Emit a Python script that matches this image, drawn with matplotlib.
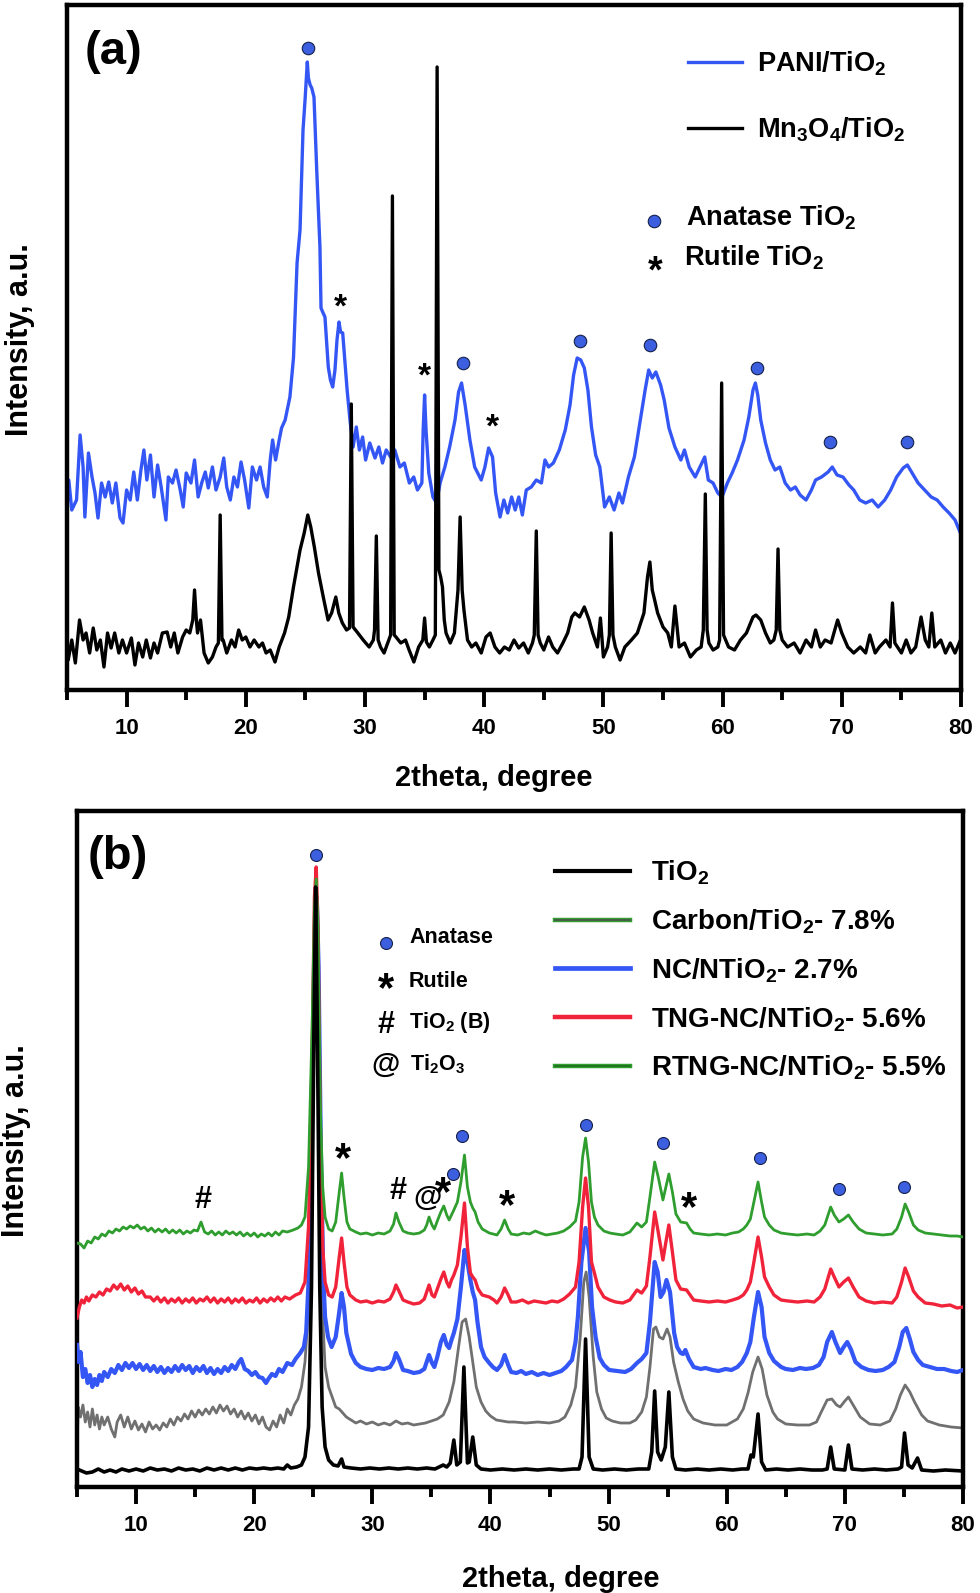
import matplotlib
matplotlib.use('Agg')
import matplotlib.pyplot as plt
import matplotlib.patheffects as pe
from matplotlib.lines import Line2D
from matplotlib.transforms import offset_copy
import numpy as np

plt.rcParams['font.family'] = ['Liberation Sans', 'DejaVu Sans']
plt.rcParams['font.weight'] = 'bold'
plt.rcParams['axes.labelweight'] = 'bold'
plt.rcParams['mathtext.fontset'] = 'custom'
plt.rcParams['mathtext.rm'] = 'Liberation Sans:bold'
plt.rcParams['mathtext.it'] = 'Liberation Sans:bold'
plt.rcParams['mathtext.bf'] = 'Liberation Sans:bold'
plt.rcParams['mathtext.default'] = 'rm'

# ---- panel (a) data: (2theta, intensity a.u.) ----
pani_pts = [
    (5.0, 183), (5.15, 210), (5.4, 180), (5.8, 190), (6.1, 255), (6.35, 223), (6.5, 173), (6.8, 237),
    (7.1, 213), (7.35, 197), (7.6, 172), (7.9, 207), (8.2, 193), (8.5, 208), (8.8, 187), (9.1, 207),
    (9.45, 172), (9.7, 167), (10.0, 200), (10.3, 190), (10.6, 218), (10.9, 190), (11.2, 220), (11.45, 240),
    (11.7, 210), (12.0, 235), (12.3, 193), (12.6, 225), (12.9, 203), (13.3, 170), (13.5, 213), (13.85, 207),
    (14.15, 220), (14.5, 200), (14.75, 183), (15.0, 217), (15.4, 207), (15.7, 230), (16.0, 193), (16.3, 207),
    (16.6, 218), (16.85, 202), (17.2, 223), (17.5, 200), (17.85, 213), (18.15, 232), (18.4, 203), (18.7, 190),
    (19.0, 213), (19.3, 203), (19.6, 228), (19.9, 210), (20.25, 182), (20.55, 223), (20.9, 210), (21.2, 223),
    (21.5, 203), (21.8, 193), (22.05, 230), (22.25, 250), (22.5, 230), (22.8, 250), (23.0, 262), (23.3, 270),
    (23.7, 293), (24.0, 332), (24.3, 427), (24.55, 460), (24.8, 560), (24.97, 590), (25.1, 615), (25.16, 628),
    (25.25, 612), (25.4, 605), (25.53, 602), (25.72, 593), (25.95, 520), (26.22, 443), (26.31, 382), (26.45, 378),
    (26.64, 373), (26.92, 323), (27.1, 310), (27.29, 303), (27.48, 320), (27.65, 350), (27.82, 368), (27.95, 358),
    (28.13, 357), (28.32, 327), (28.5, 300), (28.74, 270), (29.0, 243), (29.27, 263), (29.53, 240), (29.8, 253),
    (30.05, 230), (30.4, 247), (30.84, 232), (31.16, 243), (31.47, 227), (31.78, 240), (32.15, 233), (32.5, 240),
    (32.93, 223), (33.3, 227), (33.72, 207), (34.09, 213), (34.4, 200), (34.77, 207), (34.88, 260), (35.0, 295),
    (35.12, 260), (35.35, 217), (35.7, 193), (36.0, 187), (36.3, 207), (36.7, 223), (37.1, 243), (37.55, 270),
    (37.85, 298), (38.1, 307), (38.4, 285), (38.8, 250), (39.2, 223), (39.75, 210), (40.06, 223), (40.37, 242),
    (40.7, 233), (40.96, 197), (41.33, 173), (41.65, 190), (41.97, 177), (42.3, 193), (42.6, 180), (42.9, 193),
    (43.2, 175), (43.53, 200), (43.95, 203), (44.37, 210), (44.8, 207), (45.1, 230), (45.4, 223), (45.8, 227),
    (46.3, 240), (46.8, 260), (47.2, 285), (47.5, 315), (47.8, 332), (48.1, 330), (48.4, 322), (48.7, 300),
    (49.0, 263), (49.35, 235), (49.7, 223), (50.1, 183), (50.5, 193), (50.9, 180), (51.3, 197), (51.6, 187),
    (52.1, 213), (52.6, 233), (53.1, 270), (53.5, 300), (53.8, 320), (54.1, 312), (54.4, 318), (54.8, 305),
    (55.1, 290), (55.5, 262), (56.0, 243), (56.5, 230), (56.8, 240), (57.2, 223), (57.7, 213), (58.1, 223),
    (58.5, 233), (58.8, 210), (59.2, 207), (59.6, 197), (59.95, 193), (60.4, 207), (60.8, 217), (61.25, 230),
    (61.8, 250), (62.2, 273), (62.55, 300), (62.75, 307), (62.95, 295), (63.2, 270), (63.6, 247), (64.0, 230),
    (64.4, 220), (64.8, 223), (65.25, 207), (65.7, 200), (66.1, 203), (66.5, 195), (67.0, 190), (67.45, 200),
    (67.8, 210), (68.3, 213), (68.85, 218), (69.2, 223), (69.6, 215), (70.1, 213), (70.6, 205), (71.0, 200),
    (71.5, 190), (72.0, 187), (72.55, 190), (73.05, 183), (73.6, 190), (74.1, 200), (74.6, 213), (75.15, 222),
    (75.5, 225), (75.9, 217), (76.4, 207), (76.95, 200), (77.5, 193), (78.0, 190), (78.5, 183), (79.0, 177),
    (79.5, 170), (79.95, 157)]

mn_pts = [
    (5.0, 45), (5.1, 30), (5.4, 50), (5.7, 27), (6.05, 70), (6.35, 50), (6.6, 57), (6.9, 37), (7.2, 62),
    (7.5, 40), (7.8, 50), (8.1, 23), (8.4, 57), (8.7, 42), (9.0, 57), (9.35, 37), (9.65, 50), (10.0, 37),
    (10.4, 52), (10.7, 25), (11.0, 47), (11.35, 33), (11.65, 50), (12.0, 32), (12.3, 47), (12.6, 37),
    (13.0, 57), (13.4, 58), (13.7, 43), (14.0, 57), (14.3, 37), (14.7, 53), (15.0, 60), (15.3, 57),
    (15.55, 70), (15.7, 100), (15.85, 70), (15.95, 57), (16.2, 70), (16.5, 37), (16.85, 27), (17.2, 33),
    (17.5, 43), (17.7, 47), (17.85, 175), (18.0, 50), (18.1, 50), (18.4, 37), (18.8, 50), (19.1, 43),
    (19.4, 60), (19.7, 50), (20.0, 53), (20.35, 43), (20.7, 50), (21.1, 43), (21.4, 47), (21.7, 37),
    (22.05, 40), (22.45, 28), (22.8, 43), (23.25, 57), (23.6, 73), (24.0, 103), (24.55, 140), (24.9, 157),
    (25.2, 175), (25.45, 163), (25.75, 143), (26.1, 117), (26.55, 90), (26.9, 70), (27.2, 77), (27.55, 93),
    (27.8, 77), (28.1, 67), (28.45, 60), (28.7, 62), (28.85, 286), (29.0, 63), (29.4, 57), (29.85, 50),
    (30.35, 43), (30.7, 50), (30.8, 60), (30.95, 154), (31.1, 50), (31.3, 43), (31.6, 37), (32.0, 50),
    (32.15, 55), (32.3, 494), (32.45, 55), (32.6, 53), (33.0, 47), (33.4, 50), (33.7, 40), (34.1, 28),
    (34.5, 43), (34.85, 50), (35.0, 72), (35.15, 48), (35.4, 43), (35.7, 50), (35.9, 55), (36.05, 623),
    (36.2, 120), (36.35, 113), (36.5, 103), (36.65, 70), (36.8, 57), (37.15, 47), (37.5, 57), (37.8, 100),
    (37.98, 173), (38.15, 100), (38.3, 80), (38.6, 50), (38.95, 43), (39.3, 47), (39.75, 37), (40.15, 53),
    (40.5, 57), (40.9, 43), (41.3, 37), (41.7, 43), (42.1, 40), (42.5, 50), (42.9, 42), (43.3, 47),
    (43.7, 37), (44.05, 47), (44.2, 55), (44.37, 159), (44.52, 55), (44.7, 47), (45.0, 40), (45.4, 53),
    (45.75, 43), (46.15, 37), (46.6, 47), (47.0, 57), (47.35, 73), (47.6, 77), (48.0, 73), (48.4, 83),
    (48.8, 70), (49.1, 57), (49.5, 43), (49.75, 72), (50.0, 33), (50.35, 43), (50.5, 55), (50.65, 157),
    (50.8, 55), (51.0, 43), (51.4, 30), (51.8, 43), (52.35, 50), (52.85, 57), (53.4, 77), (53.7, 113),
    (53.9, 128), (54.1, 100), (54.3, 90), (54.55, 77), (55.0, 63), (55.4, 57), (55.7, 43), (56.0, 84),
    (56.35, 43), (56.8, 47), (57.3, 33), (57.8, 40), (58.2, 43), (58.38, 60), (58.55, 196), (58.7, 60),
    (58.85, 47), (59.2, 40), (59.6, 43), (59.75, 50), (59.92, 307), (60.08, 55), (60.5, 43), (61.0, 40),
    (61.5, 50), (62.0, 57), (62.55, 73), (62.8, 75), (63.2, 70), (63.6, 57), (64.0, 47), (64.3, 50),
    (64.5, 60), (64.65, 141), (64.8, 60), (65.0, 50), (65.45, 43), (66.0, 47), (66.5, 37), (67.0, 50),
    (67.45, 43), (67.8, 60), (68.2, 43), (68.6, 50), (69.1, 47), (69.65, 70), (70.0, 57), (70.5, 43),
    (71.0, 37), (71.55, 43), (72.0, 37), (72.35, 55), (72.8, 37), (73.15, 43), (73.7, 50), (74.05, 43),
    (74.25, 87), (74.45, 47), (75.0, 37), (75.4, 50), (75.8, 37), (76.2, 43), (76.65, 73), (77.0, 50),
    (77.3, 43), (77.55, 77), (77.8, 43), (78.3, 50), (78.7, 37), (79.1, 47), (79.5, 37), (79.95, 50)]

a_anatase = [(25.2, 642), (38.2, 327), (48.0, 349), (53.9, 345), (62.9, 322), (69.0, 248), (75.5, 248)]
a_rutile = [(27.9, 392), (35.0, 323), (40.7, 272)]

# ---- panel (b) data ----
tio2_pts = [
    (5.0, 18), (5.4, 16), (5.8, 14), (6.3, 15), (6.8, 18), (7.3, 15), (7.8, 17), (8.3, 15), (8.8, 18),
    (9.4, 16), (10.0, 18), (10.6, 16), (11.2, 19), (11.8, 17), (12.4, 18), (13.0, 16), (13.6, 19),
    (14.2, 17), (14.8, 18), (15.4, 16), (16.0, 19), (16.6, 17), (17.2, 19), (17.8, 17), (18.4, 19),
    (19.0, 17), (19.6, 19), (20.2, 18), (20.8, 19), (21.4, 18), (22.0, 19), (22.5, 18), (22.8, 22),
    (23.1, 19), (23.6, 20), (24.0, 22), (24.3, 30), (24.6, 60), (24.85, 200), (25.05, 450), (25.2, 600),
    (25.35, 450), (25.55, 200), (25.75, 80), (26.0, 40), (26.3, 27), (26.7, 22), (27.1, 21), (27.4, 28),
    (27.6, 20), (28.2, 19), (29.0, 18), (29.8, 19), (30.6, 18), (31.4, 19), (32.2, 18), (33.0, 19),
    (33.8, 18), (34.6, 19), (35.3, 18), (36.0, 22), (36.3, 20), (36.6, 24), (36.9, 47), (37.15, 22),
    (37.45, 25), (37.75, 120), (38.05, 24), (38.2, 25), (38.5, 50), (38.8, 22), (39.2, 18), (40.0, 17),
    (41.0, 18), (42.0, 17), (43.0, 18), (44.0, 17), (45.0, 18), (46.0, 17), (47.0, 18), (47.5, 18),
    (47.75, 30), (48.05, 148), (48.35, 30), (48.7, 18), (49.5, 17), (50.5, 18), (51.5, 17), (52.5, 18),
    (53.4, 18), (53.65, 35), (53.9, 96), (54.15, 35), (54.45, 27), (54.8, 40), (55.1, 95), (55.4, 30),
    (55.7, 18), (56.5, 17), (57.5, 18), (58.5, 17), (59.5, 18), (60.5, 17), (61.3, 18), (61.8, 18),
    (62.05, 32), (62.25, 30), (62.65, 73), (62.95, 25), (63.3, 17), (64.2, 18), (65.2, 17), (66.2, 18),
    (67.2, 17), (68.1, 17), (68.5, 18), (68.8, 40), (69.1, 18), (70.0, 17), (70.3, 42), (70.6, 18),
    (71.5, 17), (72.5, 18), (73.5, 17), (74.5, 18), (74.8, 20), (75.05, 54), (75.35, 22), (75.7, 19),
    (76.15, 29), (76.5, 17), (77.5, 16), (78.5, 17), (80.0, 16)]

carbon_pts = [
    (5.0, 37), (5.1, 80), (5.3, 70), (5.5, 82), (5.7, 65), (5.9, 75), (6.1, 60), (6.3, 78), (6.5, 62),
    (6.7, 72), (6.9, 58), (7.1, 70), (7.3, 62), (7.6, 70), (7.9, 58), (8.2, 50), (8.4, 65), (8.7, 72),
    (9.0, 60), (9.3, 70), (9.6, 58), (9.9, 66), (10.2, 57), (10.5, 63), (10.8, 55), (11.1, 65), (11.4, 58),
    (11.7, 62), (12.0, 57), (12.3, 64), (12.6, 60), (12.9, 68), (13.2, 62), (13.5, 70), (13.8, 66),
    (14.1, 73), (14.4, 68), (14.7, 76), (15.0, 70), (15.3, 77), (15.6, 72), (15.9, 78), (16.2, 73),
    (16.5, 80), (16.8, 74), (17.1, 82), (17.4, 76), (17.7, 81), (18.0, 73), (18.3, 78), (18.6, 70),
    (18.9, 76), (19.2, 68), (19.5, 74), (19.8, 66), (20.1, 72), (20.4, 63), (20.7, 70), (21.0, 60),
    (21.3, 57), (21.6, 66), (21.9, 60), (22.2, 72), (22.5, 64), (22.8, 78), (23.1, 72), (23.4, 82),
    (23.7, 88), (24.0, 100), (24.3, 125), (24.6, 180), (24.9, 350), (25.1, 540), (25.25, 585), (25.4, 520),
    (25.6, 300), (25.8, 170), (26.0, 120), (26.3, 100), (26.6, 90), (26.9, 80), (27.2, 78), (27.5, 74),
    (27.8, 70), (28.2, 67), (28.6, 64), (29.0, 66), (29.5, 63), (30.0, 65), (30.5, 62), (31.0, 64),
    (31.5, 62), (32.0, 66), (32.5, 63), (33.0, 64), (33.5, 62), (34.0, 63), (34.5, 64), (35.0, 66),
    (35.5, 68), (36.0, 72), (36.5, 85), (36.9, 105), (37.3, 140), (37.6, 165), (37.9, 168), (38.2, 150),
    (38.5, 125), (38.8, 100), (39.2, 85), (39.6, 76), (40.0, 71), (40.5, 67), (41.0, 66), (41.5, 65),
    (42.0, 65), (43.0, 64), (44.0, 65), (45.0, 64), (45.8, 66), (46.3, 70), (46.8, 82), (47.2, 100),
    (47.6, 150), (47.9, 205), (48.1, 215), (48.35, 190), (48.7, 130), (49.0, 95), (49.4, 78), (49.8, 69),
    (50.3, 66), (51.0, 64), (51.8, 64), (52.3, 67), (52.8, 75), (53.2, 90), (53.5, 120), (53.8, 158),
    (54.0, 160), (54.3, 150), (54.6, 148), (54.95, 158), (55.2, 150), (55.5, 125), (55.9, 105), (56.3, 88),
    (56.7, 76), (57.2, 68), (58.0, 64), (59.0, 62), (60.0, 62), (60.9, 68), (61.4, 78), (61.8, 94),
    (62.2, 115), (62.65, 130), (63.0, 118), (63.4, 92), (63.9, 75), (64.3, 68), (65.0, 63), (66.0, 62),
    (67.0, 62), (67.6, 65), (68.0, 75), (68.5, 87), (68.9, 88), (69.3, 82), (69.6, 80), (70.0, 86),
    (70.3, 90), (70.7, 82), (71.3, 70), (72.1, 63), (73.0, 62), (73.8, 66), (74.3, 78), (74.7, 92),
    (75.1, 102), (75.5, 95), (75.9, 85), (76.5, 72), (77.0, 66), (78.0, 62), (79.0, 60), (80.0, 59)]

nc_pts = [
    (5.0, 142), (5.15, 125), (5.3, 135), (5.5, 110), (5.7, 118), (5.9, 104), (6.1, 112), (6.3, 100),
    (6.5, 108), (6.7, 102), (6.9, 112), (7.1, 106), (7.3, 115), (7.6, 110), (7.9, 118), (8.2, 114),
    (8.5, 122), (8.8, 117), (9.1, 124), (9.4, 119), (9.7, 124), (10.0, 118), (10.3, 123), (10.6, 117),
    (10.9, 122), (11.2, 116), (11.5, 121), (11.8, 115), (12.1, 120), (12.4, 114), (12.7, 119), (13.0, 115),
    (13.3, 121), (13.6, 116), (13.9, 122), (14.2, 117), (14.5, 121), (14.8, 114), (15.1, 120), (15.4, 116),
    (15.7, 121), (16.0, 114), (16.3, 119), (16.6, 113), (16.9, 118), (17.2, 114), (17.5, 120), (17.8, 116),
    (18.1, 122), (18.4, 118), (18.7, 125), (18.9, 128), (19.2, 118), (19.5, 116), (19.8, 112), (20.1, 115),
    (20.4, 110), (20.7, 109), (21.0, 104), (21.2, 108), (21.5, 113), (21.8, 111), (22.1, 118), (22.4, 115),
    (22.8, 124), (23.2, 122), (23.5, 128), (23.9, 134), (24.2, 140), (24.4, 155), (24.7, 230), (24.95, 420),
    (25.15, 570), (25.3, 590), (25.45, 520), (25.65, 330), (25.85, 210), (26.0, 170), (26.25, 150),
    (26.55, 140), (26.9, 150), (27.2, 175), (27.4, 194), (27.6, 180), (27.8, 154), (28.2, 133), (28.6, 124),
    (29.0, 120), (29.5, 118), (30.0, 117), (30.5, 119), (31.0, 118), (31.5, 120), (31.8, 126), (32.0, 134),
    (32.25, 128), (32.6, 117), (33.0, 116), (33.5, 114), (34.0, 115), (34.4, 118), (34.6, 125), (34.8, 132),
    (35.05, 124), (35.25, 120), (35.5, 130), (35.8, 145), (36.05, 152), (36.3, 142), (36.5, 139), (36.7, 147),
    (36.9, 154), (37.2, 168), (37.5, 200), (37.8, 237), (38.05, 225), (38.3, 207), (38.5, 195), (38.7, 187),
    (38.9, 165), (39.2, 140), (39.5, 130), (39.9, 124), (40.2, 120), (40.55, 117), (40.9, 122), (41.2, 132),
    (41.5, 122), (41.75, 115), (42.2, 114), (42.6, 116), (43.0, 113), (43.5, 115), (44.0, 112), (44.5, 114),
    (45.0, 112), (45.5, 114), (46.0, 116), (46.4, 120), (46.9, 127), (47.2, 145), (47.4, 170), (47.7, 225),
    (48.05, 259), (48.35, 235), (48.6, 180), (48.9, 150), (49.25, 129), (49.6, 122), (50.05, 117),
    (50.7, 116), (51.4, 115), (51.9, 118), (52.4, 124), (52.8, 128), (53.2, 134), (53.5, 165), (53.9, 225),
    (54.15, 215), (54.4, 190), (54.65, 195), (54.9, 207), (55.2, 195), (55.55, 154), (55.8, 140),
    (56.1, 134), (56.3, 133), (56.5, 137), (56.8, 128), (57.2, 120), (57.8, 118), (58.2, 119), (58.8, 117),
    (59.3, 116), (59.9, 118), (60.4, 117), (60.9, 120), (61.3, 125), (61.7, 134), (62.0, 145), (62.3, 170),
    (62.65, 195), (62.95, 180), (63.2, 150), (63.6, 134), (64.0, 126), (64.6, 120), (65.0, 118), (65.6, 117),
    (66.2, 119), (66.7, 118), (67.3, 119), (67.8, 122), (68.2, 130), (68.5, 145), (68.9, 155), (69.2, 145),
    (69.6, 134), (69.9, 140), (70.2, 145), (70.5, 138), (70.9, 125), (71.4, 120), (72.0, 117), (72.6, 116),
    (73.2, 117), (73.7, 120), (74.2, 125), (74.6, 140), (74.9, 155), (75.2, 159), (75.5, 148), (75.8, 135),
    (76.2, 127), (76.6, 122), (77.2, 120), (77.8, 118), (78.4, 118), (79.0, 116), (79.5, 115), (80.0, 117)]

tng_pts = [
    (5.0, 169), (5.2, 180), (5.4, 187), (5.6, 184), (5.8, 190), (6.0, 186), (6.3, 192), (6.6, 190),
    (6.9, 195), (7.2, 192), (7.5, 198), (7.8, 196), (8.1, 202), (8.4, 198), (8.7, 203), (9.0, 197),
    (9.3, 201), (9.6, 195), (9.9, 199), (10.2, 193), (10.5, 196), (10.8, 190), (11.2, 190), (11.5, 186),
    (11.8, 190), (12.1, 185), (12.4, 189), (12.7, 184), (13.0, 188), (13.3, 185), (13.6, 189), (13.9, 184),
    (14.2, 188), (14.5, 185), (14.8, 189), (15.1, 184), (15.4, 188), (15.7, 186), (16.0, 190), (16.3, 185),
    (16.6, 189), (16.9, 184), (17.2, 188), (17.5, 185), (17.8, 189), (18.1, 184), (18.4, 188), (18.7, 185),
    (19.0, 189), (19.3, 184), (19.6, 187), (19.9, 185), (20.2, 189), (20.5, 184), (20.8, 188), (21.1, 185),
    (21.4, 189), (21.7, 186), (22.0, 190), (22.3, 186), (22.6, 190), (23.0, 188), (23.5, 192), (23.9, 194),
    (24.3, 205), (24.6, 260), (24.9, 430), (25.1, 590), (25.25, 620), (25.4, 560), (25.6, 360), (25.8, 240),
    (26.0, 205), (26.3, 192), (26.6, 190), (26.9, 200), (27.2, 230), (27.4, 249), (27.6, 225), (27.85, 200),
    (28.1, 192), (28.6, 187), (29.0, 185), (29.5, 186), (30.0, 184), (30.5, 186), (31.0, 185), (31.5, 188),
    (31.8, 195), (32.0, 202), (32.25, 196), (32.6, 187), (33.0, 185), (33.5, 183), (34.0, 184), (34.4, 188),
    (34.6, 195), (34.8, 202), (35.05, 192), (35.25, 190), (35.5, 198), (35.8, 208), (36.05, 215), (36.3, 205),
    (36.5, 200), (36.7, 207), (36.9, 212), (37.2, 222), (37.5, 250), (37.8, 284), (38.05, 240), (38.3, 214),
    (38.5, 210), (38.7, 207), (38.95, 198), (39.3, 192), (39.9, 190), (40.3, 187), (40.55, 184), (40.9, 190),
    (41.2, 199), (41.5, 192), (41.75, 185), (42.2, 185), (42.7, 187), (43.2, 184), (43.7, 186), (44.2, 185),
    (44.7, 184), (45.2, 186), (45.7, 185), (46.2, 188), (46.7, 193), (47.2, 200), (47.5, 225), (47.8, 280),
    (48.05, 309), (48.3, 280), (48.55, 225), (48.8, 214), (49.1, 200), (49.6, 190), (50.1, 187), (50.6, 185),
    (51.2, 184), (51.8, 187), (52.4, 197), (52.8, 194), (53.2, 201), (53.5, 230), (53.9, 275), (54.2, 255),
    (54.6, 227), (54.85, 245), (55.1, 262), (55.4, 235), (55.7, 207), (56.1, 198), (56.6, 197), (56.9, 192),
    (57.2, 187), (57.8, 186), (58.5, 185), (59.2, 186), (59.9, 185), (60.5, 187), (61.0, 189), (61.4, 192),
    (61.7, 197), (62.0, 205), (62.3, 225), (62.65, 250), (62.95, 230), (63.2, 210), (63.6, 200), (64.0, 192),
    (64.6, 187), (65.2, 186), (66.0, 185), (66.8, 186), (67.4, 185), (67.9, 190), (68.3, 198), (68.8, 218),
    (69.1, 210), (69.5, 200), (69.9, 205), (70.3, 209), (70.7, 200), (71.2, 190), (71.8, 186), (72.5, 184),
    (73.2, 185), (74.0, 184), (74.4, 190), (74.8, 205), (75.1, 219), (75.4, 210), (75.8, 196), (76.2, 190),
    (76.8, 184), (77.5, 183), (78.2, 181), (78.9, 182), (79.5, 179), (80.0, 180)]

rtng_pts = [
    (5.0, 244), (5.3, 243), (5.6, 239), (5.9, 246), (6.2, 244), (6.5, 250), (6.8, 248), (7.1, 253),
    (7.4, 251), (7.7, 256), (8.0, 254), (8.3, 258), (8.6, 256), (8.9, 260), (9.2, 258), (9.5, 261),
    (9.8, 259), (10.1, 262), (10.4, 258), (10.7, 260), (11.0, 256), (11.3, 259), (11.6, 255), (11.9, 258),
    (12.2, 255), (12.5, 258), (12.8, 254), (13.1, 257), (13.4, 254), (13.7, 257), (14.0, 253), (14.3, 256),
    (14.6, 254), (14.9, 257), (15.2, 256), (15.5, 265), (15.8, 255), (16.1, 253), (16.4, 256), (16.7, 252),
    (17.0, 255), (17.3, 252), (17.6, 256), (17.9, 253), (18.2, 255), (18.5, 252), (18.8, 255), (19.1, 251),
    (19.4, 254), (19.7, 251), (20.0, 254), (20.3, 250), (20.6, 253), (20.9, 251), (21.2, 254), (21.5, 251),
    (21.8, 255), (22.1, 252), (22.4, 256), (22.8, 255), (23.3, 257), (23.7, 259), (24.0, 262), (24.3, 270),
    (24.6, 320), (24.9, 460), (25.1, 580), (25.25, 608), (25.4, 560), (25.6, 380), (25.8, 300), (26.0, 270),
    (26.3, 258), (26.6, 256), (26.9, 265), (27.2, 295), (27.4, 314), (27.6, 290), (27.85, 265), (28.1, 258),
    (28.6, 255), (29.0, 253), (29.5, 254), (30.0, 252), (30.5, 254), (31.0, 253), (31.5, 256), (31.8, 263),
    (32.0, 274), (32.25, 265), (32.6, 256), (33.0, 254), (33.5, 253), (34.0, 254), (34.4, 257), (34.6, 262),
    (34.8, 270), (35.05, 262), (35.25, 258), (35.5, 266), (35.8, 275), (36.05, 281), (36.3, 272), (36.5, 267),
    (36.7, 272), (36.9, 277), (37.2, 285), (37.5, 305), (37.8, 332), (38.05, 300), (38.3, 285), (38.5, 279),
    (38.7, 275), (38.95, 265), (39.3, 258), (39.9, 254), (40.55, 252), (40.9, 258), (41.2, 267), (41.5, 258),
    (41.75, 253), (42.3, 252), (42.8, 254), (43.3, 253), (43.8, 256), (44.2, 254), (44.7, 252), (45.2, 253),
    (45.7, 254), (46.2, 256), (46.7, 260), (47.2, 266), (47.5, 285), (47.8, 330), (48.05, 349), (48.3, 325),
    (48.55, 285), (48.8, 270), (49.1, 262), (49.6, 256), (50.1, 254), (50.6, 253), (51.2, 252), (51.8, 255),
    (52.4, 264), (52.8, 260), (53.2, 265), (53.5, 290), (53.9, 325), (54.2, 310), (54.6, 287), (54.85, 300),
    (55.1, 313), (55.4, 295), (55.7, 273), (56.1, 265), (56.6, 264), (56.9, 258), (57.2, 254), (57.8, 253),
    (58.5, 252), (59.2, 253), (59.9, 252), (60.5, 254), (61.0, 255), (61.4, 258), (61.7, 262), (62.0, 268),
    (62.3, 285), (62.65, 305), (62.95, 285), (63.2, 270), (63.6, 262), (64.0, 257), (64.6, 254), (65.2, 253),
    (66.0, 252), (66.8, 253), (67.4, 252), (67.9, 256), (68.3, 262), (68.8, 280), (69.1, 272), (69.5, 265),
    (69.9, 268), (70.3, 272), (70.7, 265), (71.2, 258), (71.8, 254), (72.5, 253), (73.2, 252), (74.0, 253),
    (74.4, 258), (74.8, 270), (75.1, 283), (75.4, 275), (75.8, 262), (76.2, 257), (76.8, 254), (77.5, 253),
    (78.2, 252), (78.9, 251), (79.5, 251), (80.0, 250)]

b_anatase = [(25.2, 632), (36.8, 313), (37.6, 351), (48.05, 362), (54.6, 344), (62.8, 329), (69.5, 298), (75.0, 300)]
b_rutile = [(27.5, 339), (35.95, 305), (41.4, 292), (56.8, 290)]
b_tio2b = [(15.7, 290), (32.2, 299)]
b_ti2o3 = [(34.7, 289)]

BLUE = '#3356f5'
RED = '#f0233a'
GREEN = '#2f9e2f'
GRAY = '#707070'
DOT = '#3c5fe0'
DOT_EDGE = '#15204a'

# ink-centre offsets (fraction of font size) for baseline-anchored symbols
SYM_OFF = {'*': 0.56, '#': 0.35, '@': 0.27}


def xy(pts):
    arr = np.array(pts, dtype=float)
    return arr[:, 0], arr[:, 1]


def symbol(ax, x, y, s, size, transform=None):
    base = transform if transform is not None else ax.transData
    tr = offset_copy(base, fig=ax.figure, y=-SYM_OFF[s] * size, units='points')
    ax.text(x, y, s, ha='center', va='baseline', fontsize=size, fontweight='bold', transform=tr)


def style_axes(ax, ymax):
    ax.set_xlim(5, 80)
    ax.set_ylim(0, ymax)
    ax.set_xticks(range(10, 81, 10))
    ax.set_xticks(range(5, 80, 10), minor=True)
    ax.set_yticks([])
    ax.tick_params(axis='x', which='major', direction='out', length=12, width=2.8,
                   pad=8, labelsize=16)
    ax.tick_params(axis='x', which='minor', direction='out', length=7, width=2.8)
    for lbl in ax.get_xticklabels():
        lbl.set_fontweight('bold')
    for sp in ax.spines.values():
        sp.set_linewidth(3.2)


fig = plt.figure(figsize=(9.8, 15.93), dpi=100)
ax_a = fig.add_axes([67 / 980, (1593 - 690) / 1593, 894 / 980, 685 / 1593])
ax_b = fig.add_axes([77 / 980, (1593 - 1487) / 1593, 886 / 980, 676 / 1593])

# ---------------- (a) ----------------
style_axes(ax_a, 685)
x, y = xy(pani_pts)
ax_a.plot(x, y, color=BLUE, lw=2.4, label='PANI/TiO$_2$', zorder=2)
x, y = xy(mn_pts)
ax_a.plot(x, y, color='black', lw=2.4, label='Mn$_3$O$_4$/TiO$_2$', zorder=3)
x, y = xy(a_anatase)
ax_a.plot(x, y, 'o', ms=9, mfc=DOT, mec=DOT_EDGE, mew=0.8, zorder=4)
for px, py in a_rutile:
    symbol(ax_a, px, py, '*', 24)

ax_a.legend(loc='upper left', bbox_to_anchor=(0.695, 0.935), frameon=False, fontsize=19.5,
            handlelength=2.0, handletextpad=0.55, labelspacing=1.38, borderpad=0, borderaxespad=0)
ax_a.plot([0.6566], [0.685], 'o', ms=9, mfc=DOT, mec=DOT_EDGE, mew=0.8, transform=ax_a.transAxes)
ax_a.text(0.692, 0.6788, 'Anatase TiO$_2$', fontsize=19.5, transform=ax_a.transAxes)
symbol(ax_a, 0.658, 0.625, '*', 27, transform=ax_a.transAxes)
ax_a.text(0.690, 0.6204, 'Rutile TiO$_2$', fontsize=19.5, transform=ax_a.transAxes)
ax_a.text(0.020, 0.931, '(a)', fontsize=34, va='center', transform=ax_a.transAxes)

ax_a.set_xlabel('2theta, degree', fontsize=21)
ax_a.xaxis.set_label_coords(0.4777, -0.108)
ax_a.set_ylabel('Intensity, a.u.', fontsize=22, va='center')
ax_a.yaxis.set_label_coords(-0.0526, 0.511)

# ---------------- (b) ----------------
style_axes(ax_b, 676)
x, y = xy(carbon_pts)
ax_b.plot(x, y, color=GRAY, lw=2.0, zorder=2)
x, y = xy(nc_pts)
ax_b.plot(x, y, color=BLUE, lw=3.0, zorder=3)
x, y = xy(tng_pts)
ax_b.plot(x, y, color=RED, lw=2.4, zorder=4)
x, y = xy(rtng_pts)
ax_b.plot(x, y, color=GREEN, lw=2.0, zorder=5)
x, y = xy(tio2_pts)
ax_b.plot(x, y, color='black', lw=2.6, zorder=6)
x, y = xy(b_anatase)
ax_b.plot(x, y, 'o', ms=8.6, mfc=DOT, mec=DOT_EDGE, mew=0.8, zorder=7)
for px, py in b_rutile:
    symbol(ax_b, px, py, '*', 30)
for px, py in b_tio2b:
    symbol(ax_b, px, py, '#', 22)
for px, py in b_ti2o3:
    symbol(ax_b, px, py, '@', 21)

handles = [Line2D([], [], color='black', lw=3.0),
           Line2D([], [], color='#505050', lw=1.2,
                  path_effects=[pe.Stroke(linewidth=3.2, foreground=GREEN), pe.Normal()]),
           Line2D([], [], color=BLUE, lw=3.4),
           Line2D([], [], color=RED, lw=3.2),
           Line2D([], [], color='#1f6f1f', lw=1.2,
                  path_effects=[pe.Stroke(linewidth=3.2, foreground=GREEN), pe.Normal()])]
labels = ['TiO$_2$', 'Carbon/TiO$_2$- 7.8%', 'NC/NTiO$_2$- 2.7%',
          'TNG-NC/NTiO$_2$- 5.6%', 'RTNG-NC/NTiO$_2$- 5.5%']
ax_b.legend(handles, labels, loc='upper left', bbox_to_anchor=(0.5395, 0.93), frameon=False,
            fontsize=20, handlelength=2.7, handletextpad=0.75, labelspacing=0.735,
            borderpad=0, borderaxespad=0)

ax_b.plot([0.3488], [0.8047], 'o', ms=8.6, mfc=DOT, mec=DOT_EDGE, mew=0.8,
          transform=ax_b.transAxes)
ax_b.text(0.3747, 0.8047, 'Anatase', fontsize=15.5, transform=ax_b.transAxes)
symbol(ax_b, 0.3488, 0.7530, '*', 30, transform=ax_b.transAxes)
ax_b.text(0.3747, 0.7396, 'Rutile', fontsize=15.5, transform=ax_b.transAxes)
symbol(ax_b, 0.3488, 0.6879, '#', 22, transform=ax_b.transAxes)
ax_b.text(0.3747, 0.6790, 'TiO$_2$ (B)', fontsize=15.5, transform=ax_b.transAxes)
symbol(ax_b, 0.3488, 0.6243, '@', 21, transform=ax_b.transAxes)
ax_b.text(0.3758, 0.6169, 'Ti$_2$O$_3$', fontsize=15.5, transform=ax_b.transAxes)
ax_b.text(0.0124, 0.932, '(b)', fontsize=34, va='center', transform=ax_b.transAxes)

ax_b.set_xlabel('2theta, degree', fontsize=21)
ax_b.xaxis.set_label_coords(0.546, -0.1154)
ax_b.set_ylabel('Intensity, a.u.', fontsize=22, va='center')
ax_b.yaxis.set_label_coords(-0.0688, 0.513)

fig.savefig('out.png', dpi=100)
